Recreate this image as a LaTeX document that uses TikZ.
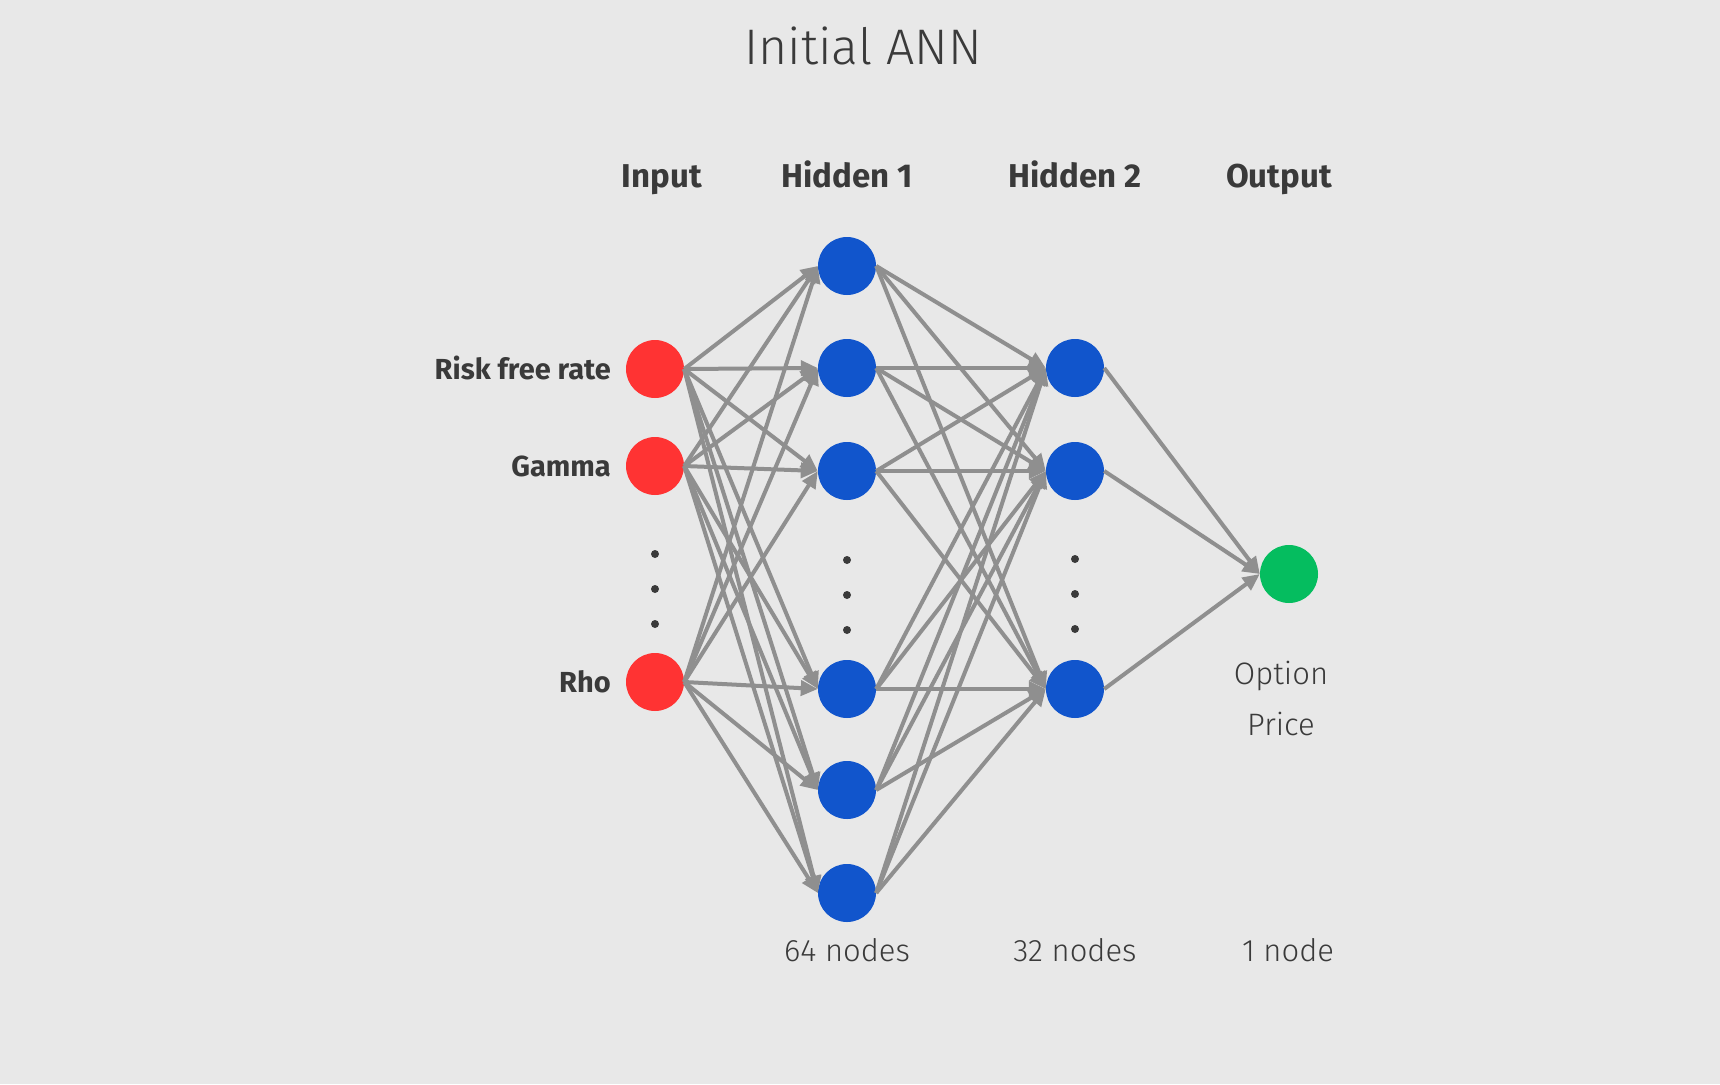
\documentclass[tikz,border=0pt]{standalone}
\usepackage{fontspec}
\setmainfont{Fira Sans}
\newfontfamily\lightfont{Fira Sans Light}
\usetikzlibrary{arrows.meta}
\definecolor{bg}{HTML}{E8E8E8}
\definecolor{edge}{HTML}{8F8F8F}
\definecolor{inred}{HTML}{FF3333}
\definecolor{hidblue}{HTML}{1155CC}
\definecolor{outgreen}{HTML}{05BD5F}
\definecolor{txt}{HTML}{3A3A3A}
\tikzset{
  neuron/.style={circle, minimum size=58pt, inner sep=0pt, draw=none},
  inneuron/.style={neuron, fill=inred},
  hidneuron/.style={neuron, fill=hidblue},
  outneuron/.style={neuron, fill=outgreen},
  conn/.style={draw=edge, line width=4pt, -{Triangle[length=17pt,width=15pt]}},
  header/.style={font=\bfseries\fontsize{33}{40}\selectfont, text=txt, anchor=base, inner sep=0pt},
  sidelabel/.style={font=\bfseries\fontsize{29}{35}\selectfont, text=txt, anchor=base east, inner sep=0pt},
  footlabel/.style={font=\lightfont\fontsize{31}{37}\selectfont, text=txt, anchor=base, inner sep=0pt},
  vdot/.style={circle, fill=txt, minimum size=8pt, inner sep=0pt},
}
\begin{document}
\begin{tikzpicture}[x=1pt,y=-1pt]
\fill[bg] (0,0) rectangle (1720,1084);
\useasboundingbox (0,0) rectangle (1720,1084);
% title
\node[font=\lightfont\fontsize{50}{60}\selectfont, text=txt] (title) at (863,46) {Initial ANN};
% headers
\node[header] (hin) at (662,187) {Input};
\node[header] (hh1) at (847,187) {Hidden 1};
\node[header] (hh2) at (1075,187) {Hidden 2};
\node[header] (hout) at (1279,187) {Output};
% input
\node[inneuron] (i1) at (655,369) {};
\node[inneuron] (i2) at (655,466) {};
\node[inneuron] (i3) at (655,682) {};
\node[sidelabel] (l1) at (611,379) {Risk free rate};
\node[sidelabel] (l2) at (611,476) {Gamma};
\node[sidelabel] (l3) at (611,692) {Rho};
\node[vdot] (di1) at (655,554) {};
\node[vdot] (di2) at (655,589) {};
\node[vdot] (di3) at (655,624) {};
% hidden 1
\node[hidneuron] (a1) at (847,266) {};
\node[hidneuron] (a2) at (847,368) {};
\node[hidneuron] (a3) at (847,471) {};
\node[hidneuron] (a4) at (847,689) {};
\node[hidneuron] (a5) at (847,790) {};
\node[hidneuron] (a6) at (847,893) {};
\node[vdot] (da1) at (847,560) {};
\node[vdot] (da2) at (847,595) {};
\node[vdot] (da3) at (847,630) {};
% hidden 2
\node[hidneuron] (b1) at (1075,368) {};
\node[hidneuron] (b2) at (1075,471) {};
\node[hidneuron] (b3) at (1075,689) {};
\node[vdot] (db1) at (1075,559) {};
\node[vdot] (db2) at (1075,594) {};
\node[vdot] (db3) at (1075,629) {};
% output
\node[outneuron] (o1) at (1289,574) {};
% connections
\foreach \s in {i1,i2,i3}{
  \foreach \t in {a1,a2,a3,a4,a5,a6}{
    \draw[conn] (\s.east) -- (\t.west);
  }
}
\foreach \s in {a1,a2,a3,a4,a5,a6}{
  \foreach \t in {b1,b2,b3}{
    \draw[conn] (\s.east) -- (\t.west);
  }
}
\foreach \s in {b1,b2,b3}{
  \draw[conn] (\s.east) -- (o1.west);
}
% footer labels
\node[footlabel] (optp1) at (1281,684) {Option};
\node[footlabel] (optp2) at (1281,735) {Price};
\node[footlabel] (f1) at (847,961) {64 nodes};
\node[footlabel] (f2) at (1075,961) {32 nodes};
\node[footlabel] (f3) at (1288,961) {1 node};
\end{tikzpicture}
\end{document}
